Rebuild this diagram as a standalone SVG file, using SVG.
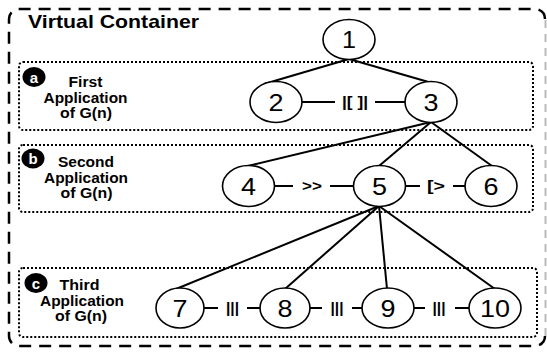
<svg xmlns="http://www.w3.org/2000/svg" width="547" height="356" viewBox="0 0 547 356">
<style>
.node ellipse{fill:#fff;stroke:#000;stroke-width:1.6}
.node text{font-family:"Liberation Sans",Arial,sans-serif;font-size:24px;text-anchor:middle;fill:#000}
.edge{stroke:#000;stroke-width:2;fill:none}
.op{font-family:"Liberation Sans",Arial,sans-serif;font-size:14px;font-weight:bold;text-anchor:middle;fill:#000}
.lbl{font-family:"Liberation Sans",Arial,sans-serif;font-size:14.5px;font-weight:bold;text-anchor:middle;fill:#000}
.box{fill:none;stroke:#000;stroke-width:2;stroke-dasharray:2 2}
.badge ellipse{fill:#000}
.badge text{font-family:"Liberation Sans",Arial,sans-serif;font-size:15px;font-weight:bold;text-anchor:middle;fill:#fff}
</style>
<rect width="547" height="356" fill="#fff"/>
<g id="container">
<path d="M545 19 A10 10 0 0 0 535 9 L19 9 A10 10 0 0 0 9 19 L9 336 A10 10 0 0 0 19 346 L535 346 A10 10 0 0 0 545 336" fill="none" stroke="#000" stroke-width="2.5" stroke-dasharray="12 8"/>
<line x1="545.5" y1="20" x2="545.5" y2="336" stroke="#bbb" stroke-width="2" stroke-dasharray="8 6"/>
<text x="28" y="27.5" font-family="Liberation Sans, Arial, sans-serif" font-size="19" font-weight="bold" textLength="171" lengthAdjust="spacingAndGlyphs">Virtual Container</text>
</g>
<g id="stage-a">
<rect class="box" x="19" y="62" width="514" height="68" rx="4"/>
<g class="badge"><ellipse cx="34" cy="77" rx="11.5" ry="10"/><text x="34" y="82.5">a</text></g>
<text class="lbl" x="85.5" y="87" textLength="34" lengthAdjust="spacingAndGlyphs">First</text>
<text class="lbl" x="85.5" y="102.5" textLength="84" lengthAdjust="spacingAndGlyphs">Application</text>
<text class="lbl" x="86" y="118" textLength="52" lengthAdjust="spacingAndGlyphs">of G(n)</text>
</g>
<g id="stage-b">
<rect class="box" x="19" y="145" width="514" height="67" rx="4"/>
<g class="badge"><ellipse cx="33" cy="158.5" rx="11.5" ry="10"/><text x="33" y="164">b</text></g>
<text class="lbl" x="86" y="167" textLength="56" lengthAdjust="spacingAndGlyphs">Second</text>
<text class="lbl" x="86" y="182.5" textLength="84" lengthAdjust="spacingAndGlyphs">Application</text>
<text class="lbl" x="86.5" y="198" textLength="52" lengthAdjust="spacingAndGlyphs">of G(n)</text>
</g>
<g id="stage-c">
<rect class="box" x="19" y="268" width="518" height="69" rx="4"/>
<g class="badge"><ellipse cx="36" cy="283" rx="11.5" ry="10"/><text x="36" y="288.5">c</text></g>
<text class="lbl" x="79.5" y="290" textLength="40" lengthAdjust="spacingAndGlyphs">Third</text>
<text class="lbl" x="82" y="305.5" textLength="84" lengthAdjust="spacingAndGlyphs">Application</text>
<text class="lbl" x="81" y="321" textLength="52" lengthAdjust="spacingAndGlyphs">of G(n)</text>
</g>
<g id="connectors">
<line class="edge" x1="349" y1="59" x2="264" y2="84"/>
<line class="edge" x1="349" y1="59" x2="432" y2="83"/>
<line class="edge" x1="431" y1="122" x2="248" y2="166"/>
<line class="edge" x1="431" y1="122" x2="379" y2="166"/>
<line class="edge" x1="431" y1="122" x2="492" y2="166"/>
<line class="edge" x1="379" y1="206" x2="176" y2="289"/>
<line class="edge" x1="379" y1="206" x2="285" y2="289"/>
<line class="edge" x1="379" y1="206" x2="387" y2="289"/>
<line class="edge" x1="379" y1="206" x2="495" y2="289"/>
<line class="edge" x1="301" y1="102" x2="335" y2="102"/>
<line class="edge" x1="375" y1="102" x2="406" y2="102"/>
<text class="op" x="355" y="107" textLength="26" lengthAdjust="spacingAndGlyphs">|[ ]|</text>
<line class="edge" x1="274" y1="186" x2="293" y2="186"/>
<line class="edge" x1="330" y1="186" x2="354" y2="186"/>
<text class="op" x="312" y="191" textLength="20" lengthAdjust="spacingAndGlyphs">&gt;&gt;</text>
<line class="edge" x1="405" y1="186" x2="420" y2="186"/>
<line class="edge" x1="453" y1="186" x2="466" y2="186"/>
<text class="op" x="436" y="191" textLength="18" lengthAdjust="spacingAndGlyphs">[&gt;</text>
<line class="edge" x1="203" y1="308" x2="218" y2="308"/>
<line class="edge" x1="247" y1="308" x2="261" y2="308"/>
<text class="op" x="232.5" y="313" textLength="13" lengthAdjust="spacingAndGlyphs">|||</text>
<line class="edge" x1="309" y1="308" x2="322" y2="308"/>
<line class="edge" x1="352" y1="308" x2="363" y2="308"/>
<text class="op" x="337" y="313" textLength="13" lengthAdjust="spacingAndGlyphs">|||</text>
<line class="edge" x1="413" y1="308" x2="425" y2="308"/>
<line class="edge" x1="455" y1="308" x2="470" y2="308"/>
<text class="op" x="439" y="313" textLength="13" lengthAdjust="spacingAndGlyphs">|||</text>
</g>
<g id="n1" class="node"><ellipse cx="349" cy="39.5" rx="26" ry="20"/><text x="349" y="48" textLength="14" lengthAdjust="spacingAndGlyphs">1</text></g>
<g id="n2" class="node"><ellipse cx="276" cy="102" rx="26" ry="20.5"/><text x="276" y="110.5" textLength="15" lengthAdjust="spacingAndGlyphs">2</text></g>
<g id="n3" class="node"><ellipse cx="431" cy="102" rx="26" ry="20.5"/><text x="431" y="110.5" textLength="15" lengthAdjust="spacingAndGlyphs">3</text></g>
<g id="n4" class="node"><ellipse cx="248.5" cy="186" rx="26" ry="20.5"/><text x="248.5" y="194.5" textLength="15" lengthAdjust="spacingAndGlyphs">4</text></g>
<g id="n5" class="node"><ellipse cx="379.5" cy="186" rx="26" ry="20.5"/><text x="379.5" y="194.5" textLength="15" lengthAdjust="spacingAndGlyphs">5</text></g>
<g id="n6" class="node"><ellipse cx="491" cy="186" rx="26" ry="20.5"/><text x="491" y="194.5" textLength="15" lengthAdjust="spacingAndGlyphs">6</text></g>
<g id="n7" class="node"><ellipse cx="180" cy="308" rx="24" ry="20"/><text x="180" y="316.5" textLength="15" lengthAdjust="spacingAndGlyphs">7</text></g>
<g id="n8" class="node"><ellipse cx="285" cy="308" rx="25" ry="20"/><text x="285" y="316.5" textLength="15" lengthAdjust="spacingAndGlyphs">8</text></g>
<g id="n9" class="node"><ellipse cx="388" cy="308" rx="26" ry="20"/><text x="388" y="316.5" textLength="15" lengthAdjust="spacingAndGlyphs">9</text></g>
<g id="n10" class="node"><ellipse cx="495" cy="308" rx="26" ry="20"/><text x="495" y="316.5" textLength="30" lengthAdjust="spacingAndGlyphs">10</text></g>
</svg>
